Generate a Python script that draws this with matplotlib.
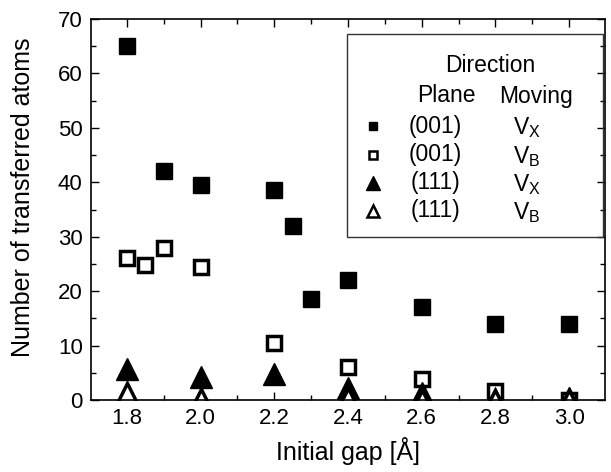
import numpy as np
import matplotlib
matplotlib.use("Agg")
from matplotlib import pyplot as plt
from matplotlib.patches import Rectangle
from matplotlib.ticker import MultipleLocator

plt.rcParams['font.family'] = ['Liberation Sans', 'DejaVu Sans']

# (001) plane, moving direction V_X
gap_001_x = [1.8, 1.9, 2.0, 2.2, 2.25, 2.3, 2.4, 2.6, 2.8, 3.0]
atoms_001_x = [65, 42, 39.5, 38.5, 32, 18.5, 22, 17, 14, 14]
# (001) plane, moving direction V_B
gap_001_b = [1.8, 1.85, 1.9, 2.0, 2.2, 2.4, 2.6, 2.8, 3.0]
atoms_001_b = [26, 24.8, 28, 24.5, 10.5, 6, 3.9, 1.6, 0]
# (111) plane, moving direction V_X
gap_111_x = [1.8, 2.0, 2.2, 2.4, 2.6, 2.8, 3.0]
atoms_111_x = [5.7, 4.2, 4.7, 2.2, 1.3, 0.2, 0.3]
# (111) plane, moving direction V_B
gap_111_b = [1.8, 2.0, 2.4, 2.6, 2.8, 3.0]
atoms_111_b = [1.3, 0.2, 0.3, 0, 0, 0]

xtick_labels = ["1.8", "2.0", "2.2", "2.4", "2.6", "2.8", "3.0"]
legend_planes = ["(001)", "(001)", "(111)", "(111)"]
legend_moving = ["V$_\\mathregular{X}$", "V$_\\mathregular{B}$",
                 "V$_\\mathregular{X}$", "V$_\\mathregular{B}$"]

W, H = 611, 472
fig = plt.figure(figsize=(W / 100, H / 100), dpi=100)
ax = fig.add_axes([91 / W, 1 - 400 / H, 514 / W, 381 / H])

styles = [
    dict(marker="s", ms=12, mfc="black", mec="black"),
    dict(marker="s", ms=9.5, mfc="white", mec="black", mew=2.5),
    dict(marker="^", ms=15.5, mfc="black", mec="black"),
    dict(marker="^", ms=14, mfc="white", mec="black", mew=2.5),
]
series = [(gap_001_x, atoms_001_x), (gap_001_b, atoms_001_b),
          (gap_111_x, atoms_111_x), (gap_111_b, atoms_111_b)]
for (x, y), st in zip(series, styles):
    ax.plot(x, y, ls="none", **st)

ax.set_xlim(1.703, 3.097)
ax.set_ylim(0, 70)
ax.xaxis.set_minor_locator(MultipleLocator(0.1))
ax.yaxis.set_major_locator(MultipleLocator(10))
ax.yaxis.set_minor_locator(MultipleLocator(5))
ax.set_xticks([float(t) for t in xtick_labels])
ax.set_xticklabels(xtick_labels)
ax.tick_params(which="both", direction="in", top=True, right=True,
               labelsize=16, width=1)
ax.tick_params(which="major", length=6)
ax.tick_params(which="minor", length=3.5)
ax.tick_params(axis="x", pad=6)
ax.tick_params(axis="y", pad=6)
for s in ax.spines.values():
    s.set_linewidth(1.2)
ax.set_xlabel("Initial gap [Å]", fontsize=18, va="top")
ax.xaxis.set_label_coords(0.5, (400 - 437) / 381)
ax.set_ylabel("Number of transferred atoms", fontsize=18, va="center")
ax.yaxis.set_label_coords((23 - 91) / 514, (400 - 197) / 381)

# hand-drawn legend box
tr = ax.transAxes
def ax_xy(px, py):
    return (px - 91) / 514, (400 - py) / 381

bx0, by0 = ax_xy(347, 237)
bx1, by1 = ax_xy(603, 34)
ax.add_patch(Rectangle((bx0, by0), bx1 - bx0, by1 - by0, transform=tr,
                       fill=False, lw=1.0, ec="#333333", zorder=5))
ax.text(*ax_xy(490, 66), "Direction", transform=tr,
        ha="center", va="center", fontsize=16.5)
ax.text(*ax_xy(446, 96), "Plane", transform=tr,
        ha="center", va="center", fontsize=16.5)
ax.text(*ax_xy(536, 96), "Moving", transform=tr,
        ha="center", va="center", fontsize=16.5)
row_y = [126, 155, 183, 211]
legend_ms = [dict(marker="s", ms=6, mfc="black", mec="black"),
             dict(marker="s", ms=6, mfc="white", mec="black", mew=1.8),
             dict(marker="^", ms=9.5, mfc="black", mec="black"),
             dict(marker="^", ms=9, mfc="white", mec="black", mew=1.8)]
for yy, pl, mv, st in zip(row_y, legend_planes, legend_moving, legend_ms):
    mx, my = ax_xy(373, yy)
    ax.plot([mx], [my], transform=tr, ls="none", clip_on=False,
            zorder=6, **st)
    ax.text(*ax_xy(435, yy), pl, transform=tr, ha="center", va="center",
            fontsize=16.5)
    ax.text(*ax_xy(527, yy + 2), mv, transform=tr, ha="center", va="center",
            fontsize=16.5)

fig.savefig("out.png", dpi=100)
